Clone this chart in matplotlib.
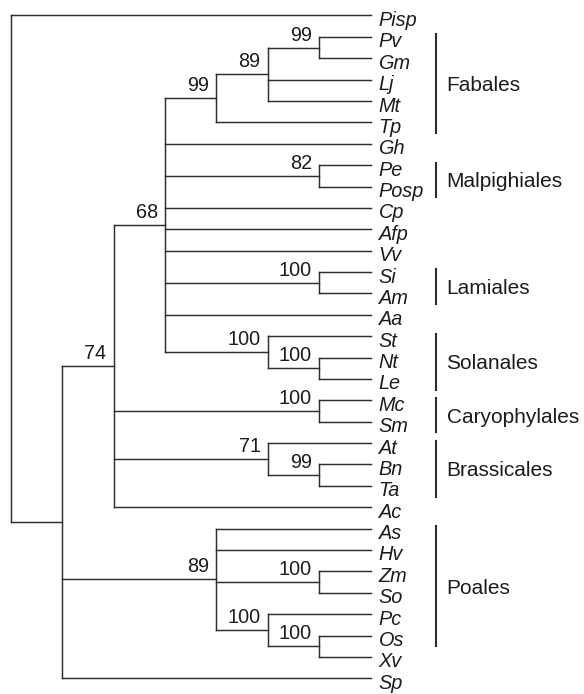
import matplotlib
matplotlib.use("Agg")
import matplotlib.pyplot as plt
from matplotlib.transforms import offset_copy

plt.rcParams['font.family'] = ['Liberation Sans', 'DejaVu Sans']

# ---- data: tree topology with bootstrap support (None = no label) ----
FABALES = [99, [[89, [[99, ["Pv", "Gm"]], "Lj", "Mt"]], "Tp"]]
MALPIGHIALES = [82, ["Pe", "Posp"]]
LAMIALES = [100, ["Si", "Am"]]
SOLANALES = [100, ["St", [100, ["Nt", "Le"]]]]
CARYOPHYLALES = [100, ["Mc", "Sm"]]
BRASSICALES = [71, ["At", [99, ["Bn", "Ta"]]]]
POALES = [89, ["As", "Hv", [100, ["Zm", "So"]], [100, ["Pc", [100, ["Os", "Xv"]]]]]]
EUDICOTS = [74, [[68, [FABALES, "Gh", MALPIGHIALES, "Cp", "Afp", "Vv",
                       LAMIALES, "Aa", SOLANALES]],
                 CARYOPHYLALES, BRASSICALES, "Ac"]]
TREE = [None, ["Pisp", [None, [EUDICOTS, POALES, "Sp"]]]]

# clade brackets: name, first leaf, last leaf
CLADE_NAMES = ["Fabales", "Malpighiales", "Lamiales", "Solanales",
               "Caryophylales", "Brassicales", "Poales"]
CLADE_FIRST = ["Pv", "Pe", "Si", "St", "Mc", "At", "As"]
CLADE_LAST = ["Tp", "Posp", "Am", "Le", "Sm", "Ta", "Os"]

# ---- layout helpers ----
W, H, DPI = 584, 694, 100
X0, DX = 10.7, 51.4     # pixel x of level 0, pixels per level
Y0, DY = 15.5, 21.38    # pixel y of first leaf, pixels per leaf
LINE_C = '#2e2e2e'
TEXT_C = '#1c1c1c'

fig = plt.figure(figsize=(W / DPI, H / DPI), dpi=DPI)
ax = fig.add_axes([0, 0, 1, 1])
ax.set_xlim(-X0 / DX, (W - X0) / DX)
ax.set_ylim((H - Y0) / DY, -Y0 / DY)
ax.axis('off')

leaf_y = {}
counter = [0]


def height(node):
    if isinstance(node, str):
        return 0
    return 1 + max(height(c) for c in node[1])


MAXH = height(TREE)


def layout(node):
    """Returns (x, y) of node; draws branches."""
    if isinstance(node, str):
        y = counter[0]
        counter[0] += 1
        leaf_y[node] = y
        return MAXH, y
    sup, children = node
    pos = [layout(c) for c in children]
    x = MAXH - height(node)
    y = (pos[0][1] + pos[-1][1]) / 2
    ax.plot([x, x], [pos[0][1], pos[-1][1]], color=LINE_C, lw=1.05,
            solid_capstyle='projecting')
    for (cx, cy), c in zip(pos, children):
        ax.plot([x, cx], [cy, cy], color=LINE_C, lw=1.05,
                solid_capstyle='projecting')
        if not isinstance(c, str) and c[0] is not None:
            tr = offset_copy(ax.transData, fig=fig, x=-7, y=7, units='dots')
            ax.text(cx, cy, str(c[0]), transform=tr, ha='right',
                    va='baseline', fontsize=14.3, color=TEXT_C)
    return x, y


layout(TREE)

leaf_tr = offset_copy(ax.transData, fig=fig, x=8, y=-10.5, units='dots')
for name, y in leaf_y.items():
    ax.text(MAXH, y, name, transform=leaf_tr, ha='left', va='baseline',
            fontsize=14.3, style='italic', color=TEXT_C)

bar_x = (435.5 - X0) / DX
lab_tr = offset_copy(ax.transData, fig=fig, x=11, y=-7.5, units='dots')
for name, a, b in zip(CLADE_NAMES, CLADE_FIRST, CLADE_LAST):
    y1 = leaf_y[a] - 0.12
    y2 = leaf_y[b] + 0.5
    ax.plot([bar_x, bar_x], [y1, y2], color=LINE_C, lw=1.5)
    ax.text(bar_x, (y1 + y2) / 2, name, transform=lab_tr, ha='left',
            va='baseline', fontsize=15, color=TEXT_C)

fig.savefig('out.png', dpi=DPI)
